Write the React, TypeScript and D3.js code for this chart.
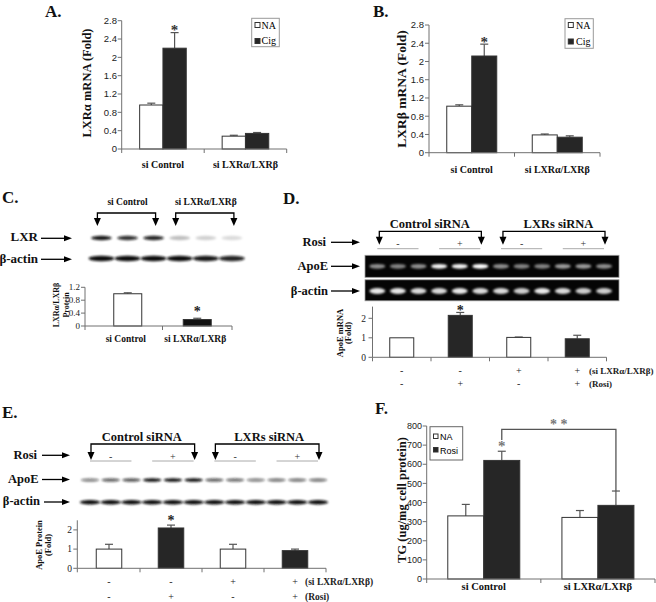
import React from "react";
import * as d3 from "d3";

const SERIF = "'Liberation Serif','Times New Roman',serif";
const SANS = "'Liberation Sans',Arial,sans-serif";
const DARK = "#262626";
const AXIS = "#707070";
const ERR = "#555";

// ---------- Panel A / B ----------
const groupsAB = ["si Control", "si LXRα/LXRβ"];
const lxrAlphaNA = [0.96, 0.28];
const lxrAlphaNAErr = [0.04, 0.02];
const lxrAlphaCig = [2.2, 0.34];
const lxrAlphaCigErr = [0.34, 0.02];
const ticksAB = [0, 0.4, 0.8, 1.2, 1.6, 2, 2.4, 2.8];
const sigCig = [true, false];
const lxrBetaNA = [1.02, 0.39];
const lxrBetaNAErr = [0.03, 0.02];
const lxrBetaCig = [2.12, 0.34];
const lxrBetaCigErr = [0.26, 0.03];

// ---------- Panel C ----------
const groupsC = ["si Control", "si LXRα/LXRβ"];
const lxrProtein = [1.0, 0.2];
const lxrProteinErr = [0.03, 0.04];
const sigC = [false, true];
const ticksC = [0, 0.4, 0.8, 1.2];
const lanes6 = ["1", "2", "3", "4", "5", "6"];
const lxrBandC = [0.95, 0.85, 0.9, 0.25, 0.18, 0.14];
const actinBandC = [1, 1, 1, 1, 0.95, 0.9];

// ---------- Panels D / E ----------
const blotGroups = ["Control siRNA", "LXRs siRNA"];
const conds = ["c1", "c2", "c3", "c4"];
const siRow = ["-", "-", "+", "+"];
const rosiRow = ["-", "+", "-", "+"];
const lanes12 = ["1", "2", "3", "4", "5", "6", "7", "8", "9", "10", "11", "12"];
const apoeMrna = [1.0, 2.15, 1.02, 0.95];
const apoeMrnaErr = [0, 0.15, 0.02, 0.18];
const sigDE = [false, true, false, false];
const ticksDE = [0, 1, 2];
const apoeGelD = [0.55, 0.5, 0.55, 0.95, 0.95, 1.0, 0.55, 0.5, 0.5, 0.6, 0.6, 0.55];
const actinGelD = [0.9, 0.9, 0.85, 0.85, 0.9, 0.85, 0.85, 0.8, 0.9, 0.85, 0.8, 0.8];
const apoeProtein = [1.0, 2.1, 1.0, 0.92];
const apoeProteinErr = [0.25, 0.15, 0.25, 0.08];
const apoeBlotE = [0.5, 0.65, 0.7, 1, 1, 1, 0.65, 0.6, 0.5, 0.55, 0.55, 0.55];
const actinBlotE = [1, 1, 1, 1, 1, 1, 1, 1, 1, 1, 1, 1];

// ---------- Panel F ----------
const groupsF = ["si Control", "si LXRα/LXRβ"];
const tgNA = [330, 322];
const tgNAErr = [60, 36];
const tgRosi = [620, 385];
const tgRosiErr = [48, 75];
const sigRosi = [true, false];
const ticksF = [0, 100, 200, 300, 400, 500, 600, 700, 800];

type Lin = d3.ScaleLinear<number, number>;
type Band = d3.ScaleBand<string>;

function Arrow({ x1, x2, y }: { x1: number; x2: number; y: number }) {
  return (
    <g>
      <line x1={x1} x2={x2 - 5} y1={y} y2={y} stroke="#000" strokeWidth={1.3} />
      <path d={`M${x2 - 8},${y - 3}L${x2},${y}L${x2 - 8},${y + 3}Z`} fill="#000" />
    </g>
  );
}

function Bracket({ x1, x2, top, bottom }: { x1: number; x2: number; top: number; bottom: number }) {
  const tri = (x: number) => `M${x - 3.5},${bottom - 8}L${x + 3.5},${bottom - 8}L${x},${bottom}Z`;
  return (
    <g>
      <path d={`M${x1},${bottom - 6}V${top}H${x2}V${bottom - 6}`} fill="none" stroke="#000" strokeWidth={1.3} />
      <path d={tri(x1)} fill="#000" />
      <path d={tri(x2)} fill="#000" />
    </g>
  );
}

function YAxis({ y, x, ticks, font, size, labelX, fmt }: { y: Lin; x: number; ticks: number[]; font: string; size: number; labelX: number; fmt?: (v: number) => string }) {
  const [d0, d1] = y.domain();
  return (
    <g>
      <line x1={x} x2={x} y1={y(d0)} y2={y(d1)} stroke={AXIS} />
      {ticks.map((t) => (
        <g key={t}>
          <line x1={x - 4} x2={x} y1={y(t)} y2={y(t)} stroke={AXIS} />
          <text x={labelX} y={y(t)} dy="0.35em" textAnchor="end" fontFamily={font} fontSize={size} fill="#222">
            {fmt ? fmt(t) : String(t)}
          </text>
        </g>
      ))}
    </g>
  );
}

function XAxis({ x, y0, x0 }: { x: Band; y0: number; x0: number }) {
  const dom = x.domain();
  const r1 = x.range()[1];
  const bounds = dom.map((d) => x(d)! + x.bandwidth());
  return (
    <g>
      <line x1={x0} x2={r1} y1={y0} y2={y0} stroke={AXIS} />
      {[x0, ...bounds].map((b, i) => (
        <line key={i} x1={b} x2={b} y1={y0} y2={y0 + 4} stroke={AXIS} />
      ))}
    </g>
  );
}

function ErrBar({ cx, y, v, e }: { cx: number; y: Lin; v: number; e: number }) {
  if (!e) return null;
  return (
    <g>
      <line x1={cx} x2={cx} y1={y(v)} y2={y(v + e)} stroke={ERR} strokeWidth={1.2} />
      <line x1={cx - 4} x2={cx + 4} y1={y(v + e)} y2={y(v + e)} stroke={ERR} strokeWidth={1.2} />
    </g>
  );
}

function Star({ x, yc, size, color }: { x: number; yc: number; size: number; color: string }) {
  return (
    <text x={x} y={yc + size * 0.5} textAnchor="middle" fontFamily={SERIF} fontWeight="bold" fontSize={size} fill={color}>
      *
    </text>
  );
}

function RotTitle({ lines, x, y, size, gap }: { lines: string[]; x: number; y: number; size: number; gap: number }) {
  return (
    <g>
      {lines.map((l, i) => (
        <text key={i} transform={`translate(${x + i * gap},${y}) rotate(-90)`} textAnchor="middle" dy="0.35em" fontFamily={SERIF} fontWeight="bold" fontSize={size} fill="#111">
          {l}
        </text>
      ))}
    </g>
  );
}

function Grouped(p: {
  cats: string[]; s1: number[]; e1: number[]; s2: number[]; e2: number[]; sig: boolean[];
  x: Band; y: Lin; barW: number; axisX: number; catY: number; catSize: number; starGap: number; starColor: string;
}) {
  const y0 = p.y(0);
  return (
    <g>
      {p.cats.map((c, i) => {
        const cx = p.x(c)! + p.x.bandwidth() / 2;
        const bars = [
          { v: p.s1[i], e: p.e1[i], fill: "#fff", x: cx - p.barW },
          { v: p.s2[i], e: p.e2[i], fill: DARK, x: cx },
        ];
        return (
          <g key={c}>
            {bars.map((b, j) => (
              <g key={j}>
                <ErrBar cx={b.x + p.barW / 2} y={p.y} v={b.v} e={b.e} />
                <rect x={b.x} y={p.y(b.v)} width={p.barW} height={y0 - p.y(b.v)} fill={b.fill} stroke="#333" strokeWidth={1} />
              </g>
            ))}
            {p.sig[i] && <Star x={cx + p.barW / 2} yc={p.y(p.s2[i] + p.e2[i]) - p.starGap} size={15} color={p.starColor} />}
            <text x={cx} y={p.catY} textAnchor="middle" fontFamily={SERIF} fontWeight="bold" fontSize={p.catSize} fill="#111">{c}</text>
          </g>
        );
      })}
      <XAxis x={p.x} y0={y0} x0={p.axisX} />
    </g>
  );
}

function FourBars(p: { vals: number[]; errs: number[]; x: Band; y: Lin; barW: number; axisX: number; starGap: number }) {
  const y0 = p.y(0);
  return (
    <g>
      {conds.map((c, i) => {
        const cx = p.x(c)! + p.x.bandwidth() / 2;
        return (
          <g key={c}>
            <ErrBar cx={cx} y={p.y} v={p.vals[i]} e={p.errs[i]} />
            <rect x={cx - p.barW / 2} y={p.y(p.vals[i])} width={p.barW} height={y0 - p.y(p.vals[i])} fill={rosiRow[i] === "+" ? DARK : "#fff"} stroke="#333" />
            {sigDE[i] && <Star x={cx} yc={p.y(p.vals[i] + p.errs[i]) - p.starGap} size={14} color="#222" />}
          </g>
        );
      })}
      <XAxis x={p.x} y0={y0} x0={p.axisX} />
    </g>
  );
}

function Rows({ x, y1, y2, labelX, labelSize }: { x: Band; y1: number; y2: number; labelX: number; labelSize: number }) {
  return (
    <g fontFamily={SERIF} fill="#222">
      {conds.map((c, i) => {
        const cx = x(c)! + x.bandwidth() / 2;
        return (
          <g key={c} fontSize={10}>
            <text x={cx} y={y1} textAnchor="middle">{siRow[i]}</text>
            <text x={cx} y={y2} textAnchor="middle">{rosiRow[i]}</text>
          </g>
        );
      })}
      <text x={labelX} y={y1} fontWeight="bold" fontSize={labelSize}>(si LXRα/LXRβ)</text>
      <text x={labelX} y={y2} fontWeight="bold" fontSize={labelSize}>(Rosi)</text>
    </g>
  );
}

function Bands({ lanes, vals, x, y, rx, ry, color, filter }: { lanes: string[]; vals: number[]; x: d3.ScalePoint<string>; y: number; rx: number; ry: number; color: string; filter: string }) {
  return (
    <g filter={`url(#${filter})`}>
      {lanes.map((l, i) => (
        <ellipse key={l} cx={x(l)} cy={y} rx={rx} ry={ry} fill={color} fillOpacity={vals[i]} />
      ))}
    </g>
  );
}

function RosiMarks({ x, y, lineY }: { x: d3.ScalePoint<string>; y: number; lineY: number }) {
  return (
    <g>
      {rosiRow.map((s, g) => (
        <g key={g}>
          <line x1={x(lanes12[g * 3])!} x2={x(lanes12[g * 3 + 2])!} y1={lineY} y2={lineY} stroke="#aaa" strokeWidth={1} />
          <text x={x(lanes12[g * 3 + 1])} y={y} textAnchor="middle" fontFamily={SERIF} fontSize={10} fill="#333">{s}</text>
        </g>
      ))}
    </g>
  );
}

const labelStyle = { fontFamily: SERIF, fontWeight: "bold" as const, fill: "#111" };

export default function App() {
  // A
  const yA = d3.scaleLinear().domain([0, 2.8]).range([149, 20.7]);
  const xA = d3.scaleBand<string>().domain(groupsAB).range([121.7, 286.7]);
  // B
  const yB = d3.scaleLinear().domain([0, 2.8]).range([152.7, 25]);
  const xB = d3.scaleBand<string>().domain(groupsAB).range([429, 600]);
  // C
  const laneC = d3.scalePoint<string>().domain(lanes6).range([101.4, 231.9]);
  const yC = d3.scaleLinear().domain([0, 1.2]).range([326, 287.3]);
  const xC = d3.scaleBand<string>().domain(groupsC).range([93, 232]);
  // D
  const laneD = d3.scalePoint<string>().domain(lanes12).range([377.3, 604]);
  const yD = d3.scaleLinear().domain([0, 2.6]).range([357.3, 306.6]);
  const xD = d3.scaleBand<string>().domain(conds).range([372.5, 606.5]);
  // E
  const laneE = d3.scalePoint<string>().domain(lanes12).range([90, 318]);
  const yE = d3.scaleLinear().domain([0, 2.5]).range([568.3, 520.3]);
  const xE = d3.scaleBand<string>().domain(conds).range([78, 326]);
  // F
  const yF = d3.scaleLinear().domain([0, 800]).range([579, 426]);
  const xF = d3.scaleBand<string>().domain(groupsF).range([426.7, 655]);

  const fmtAB = (v: number) => (v === 0 ? "0" : d3.format("~g")(v));
  const fC = (i: number) => (i === 0 ? laneC(lanes6[0])! : laneC(lanes6[3])!);
  const fxF = (i: number) => xF(groupsF[i])! + xF.bandwidth() / 2 + 18;

  return (
    <svg width={656} height={602} style={{ position: "absolute", left: 0, top: 0, background: "#fff" }}>
      <defs>
        <filter id="blurW" x="-50%" y="-100%" width="200%" height="300%">
          <feGaussianBlur stdDeviation="0.9" />
        </filter>
        <filter id="blurG" x="-50%" y="-100%" width="200%" height="300%">
          <feGaussianBlur stdDeviation="0.8" />
        </filter>
      </defs>
      <rect width={656} height={602} fill="#fff" />

      {/* Panel letters */}
      <g {...labelStyle} fontSize={17}>
        <text x={45} y={16.5}>A.</text>
        <text x={373} y={16.5}>B.</text>
        <text x={2} y={203}>C.</text>
        <text x={283} y={204}>D.</text>
        <text x={2} y={418}>E.</text>
        <text x={375} y={414}>F.</text>
      </g>

      {/* ===== A ===== */}
      <YAxis y={yA} x={121.7} ticks={ticksAB} font={SANS} size={9.5} labelX={117} fmt={fmtAB} />
      <Grouped cats={groupsAB} s1={lxrAlphaNA} e1={lxrAlphaNAErr} s2={lxrAlphaCig} e2={lxrAlphaCigErr} sig={sigCig}
        x={xA} y={yA} barW={23.3} axisX={121.7} catY={168} catSize={10} starGap={5.5} starColor="#333" />
      <RotTitle lines={["LXRα mRNA (Fold)"]} x={87} y={83} size={12.5} gap={0} />
      <g>
        <rect x={251.7} y={18.3} width={27.6} height={28.4} fill="#fff" stroke="#999" />
        <rect x={255} y={22.5} width={5} height={5} fill="#fff" stroke="#333" />
        <rect x={255} y={38.5} width={5} height={5} fill={DARK} stroke="#333" />
        <text x={261.5} y={28.5} fontFamily={SERIF} fontSize={10}>NA</text>
        <text x={261.5} y={44} fontFamily={SERIF} fontSize={10}>Cig</text>
      </g>

      {/* ===== B ===== */}
      <YAxis y={yB} x={429} ticks={ticksAB} font={SANS} size={9.5} labelX={424} fmt={fmtAB} />
      <Grouped cats={groupsAB} s1={lxrBetaNA} e1={lxrBetaNAErr} s2={lxrBetaCig} e2={lxrBetaCigErr} sig={sigCig}
        x={xB} y={yB} barW={25} axisX={429} catY={173} catSize={10} starGap={4.5} starColor="#333" />
      <RotTitle lines={["LXRβ mRNA (Fold)"]} x={401.7} y={89} size={13.5} gap={0} />
      <g>
        <rect x={565} y={18.7} width={28.3} height={29.6} fill="#fff" stroke="#999" />
        <rect x={568.3} y={22.5} width={5} height={5} fill="#fff" stroke="#333" />
        <rect x={568.3} y={39} width={5} height={5} fill={DARK} stroke="#333" />
        <text x={576} y={28.5} fontFamily={SERIF} fontSize={10}>NA</text>
        <text x={576} y={45} fontFamily={SERIF} fontSize={10}>Cig</text>
      </g>

      {/* ===== C ===== */}
      <g {...labelStyle} fontSize={9.5}>
        {groupsC.map((g, i) => (
          <text key={g} x={(fC(i) + laneC(lanes6[i * 3 + 2])!) / 2} y={204.5} textAnchor="middle">{g}</text>
        ))}
      </g>
      {groupsC.map((g, i) => (
        <Bracket key={g} x1={laneC(lanes6[i * 3])! - 4} x2={laneC(lanes6[i * 3 + 2])! + 2} top={213} bottom={226} />
      ))}
      <g {...labelStyle} fontSize={13}>
        <text x={38} y={241.3} textAnchor="end">LXR</text>
        <text x={38} y={263.3} textAnchor="end">β-actin</text>
      </g>
      <Arrow x1={41} x2={72} y={238.3} />
      <Arrow x1={41} x2={72} y={259.3} />
      <Bands lanes={lanes6} vals={lxrBandC} x={laneC} y={238} rx={10.5} ry={2.2} color="#111" filter="blurG" />
      <Bands lanes={lanes6} vals={actinBandC} x={laneC} y={258.5} rx={12.8} ry={2.7} color="#111" filter="blurG" />
      <YAxis y={yC} x={85} ticks={ticksC} font={SERIF} size={9} labelX={80} />
      {groupsC.map((g, i) => {
        const cx = xC(g)! + xC.bandwidth() / 2;
        return (
          <g key={g}>
            <ErrBar cx={cx} y={yC} v={lxrProtein[i]} e={lxrProteinErr[i]} />
            <rect x={cx - 14} y={yC(lxrProtein[i])} width={28} height={yC(0) - yC(lxrProtein[i])} fill={i === 0 ? "#fff" : "#111"} stroke="#333" />
            {sigC[i] && <Star x={cx} yc={yC(lxrProtein[i] + lxrProteinErr[i]) - 9} size={14} color="#222" />}
            <text x={cx - 2} y={341.7} textAnchor="middle" {...labelStyle} fontSize={9.5}>{g}</text>
          </g>
        );
      })}
      <XAxis x={xC} y0={yC(0)} x0={85} />
      <RotTitle lines={["LXRα/LXRβ", "Protein"]} x={56.5} y={305} size={8} gap={10} />

      {/* ===== D ===== */}
      <g {...labelStyle} fontSize={12.5}>
        {blotGroups.map((g, i) => (
          <text key={g} x={(laneD(lanes12[i * 6])! + laneD(lanes12[i * 6 + 5])!) / 2 + (i === 1 ? 6 : 1)} y={228} textAnchor="middle">{g}</text>
        ))}
      </g>
      {blotGroups.map((g, i) => (
        <Bracket key={g} x1={laneD(lanes12[i * 6])! + 2} x2={laneD(lanes12[i * 6 + 5])! + 1} top={231.3} bottom={244.7} />
      ))}
      <RosiMarks x={laneD} y={246.5} lineY={248.7} />
      <g {...labelStyle} fontSize={12.5}>
        <text x={326} y={246.3} textAnchor="end">Rosi</text>
        <text x={328} y={270} textAnchor="end">ApoE</text>
        <text x={328} y={294.5} textAnchor="end">β-actin</text>
      </g>
      <Arrow x1={331} x2={360} y={242.3} />
      <Arrow x1={331} x2={360} y={266.3} />
      <Arrow x1={331} x2={360} y={291} />
      <rect x={365} y={255.3} width={254} height={22} fill="#050505" stroke="#999" strokeWidth={0.8} />
      <rect x={365} y={279.8} width={254} height={21} fill="#050505" stroke="#999" strokeWidth={0.8} />
      <Bands lanes={lanes12} vals={apoeGelD} x={laneD} y={266.3} rx={8} ry={2.4} color="#fff" filter="blurW" />
      <Bands lanes={lanes12} vals={actinGelD} x={laneD} y={291} rx={8} ry={2.9} color="#fff" filter="blurW" />
      <YAxis y={yD} x={372.5} ticks={ticksDE} font={SERIF} size={9.5} labelX={366} />
      <FourBars vals={apoeMrna} errs={apoeMrnaErr} x={xD} y={yD} barW={24} axisX={372.5} starGap={4} />
      <RotTitle lines={["ApoE mRNA", "(Fold)"]} x={340} y={333} size={8.5} gap={8.5} />
      <Rows x={xD} y1={373.5} y2={387} labelX={589} labelSize={9} />

      {/* ===== E ===== */}
      <g {...labelStyle} fontSize={12.5}>
        {blotGroups.map((g, i) => (
          <text key={g} x={(laneE(lanes12[i * 6])! + laneE(lanes12[i * 6 + 5])!) / 2 + (i === 1 ? 3 : 0)} y={440.5} textAnchor="middle">{g}</text>
        ))}
      </g>
      {blotGroups.map((g, i) => (
        <Bracket key={g} x1={laneE(lanes12[i * 6])! + 1} x2={laneE(lanes12[i * 6 + 5])! + 1} top={444} bottom={460} />
      ))}
      <RosiMarks x={laneE} y={459.5} lineY={461} />
      <g {...labelStyle} fontSize={12.5}>
        <text x={37} y={458.5} textAnchor="end">Rosi</text>
        <text x={38.5} y={483} textAnchor="end">ApoE</text>
        <text x={40} y={505} textAnchor="end">β-actin</text>
      </g>
      <Arrow x1={42} x2={70} y={455.3} />
      <Arrow x1={42} x2={70} y={479.5} />
      <Arrow x1={44} x2={70} y={502} />
      <Bands lanes={lanes12} vals={apoeBlotE} x={laneE} y={480} rx={9.2} ry={1.7} color="#111" filter="blurG" />
      <Bands lanes={lanes12} vals={actinBlotE} x={laneE} y={502.3} rx={10.3} ry={2.2} color="#111" filter="blurG" />
      <YAxis y={yE} x={77.3} ticks={ticksDE} font={SERIF} size={9.5} labelX={72} />
      <FourBars vals={apoeProtein} errs={apoeProteinErr} x={xE} y={yE} barW={25.5} axisX={77.3} starGap={7} />
      <RotTitle lines={["ApoE Protein", "(Fold)"]} x={39.3} y={545} size={8.5} gap={8.5} />
      <Rows x={xE} y1={585} y2={600} labelX={305} labelSize={9.5} />

      {/* ===== F ===== */}
      <YAxis y={yF} x={426.7} ticks={ticksF} font={SANS} size={9} labelX={422} />
      <Grouped cats={groupsF} s1={tgNA} e1={tgNAErr} s2={tgRosi} e2={tgRosiErr} sig={sigRosi}
        x={xF} y={yF} barW={36} axisX={426.7} catY={590} catSize={10.5} starGap={8} starColor="#777" />
      <RotTitle lines={["TG (ug/mg cell protein)"]} x={401.7} y={500} size={12.5} gap={0} />
      <path d={`M${fxF(0)},440V429.3H${fxF(1)}V${yF(tgRosi[1] + tgRosiErr[1])}`} fill="none" stroke="#555" strokeWidth={1.3} />
      <text x={(fxF(0) + fxF(1)) / 2} y={428.5} textAnchor="middle" fontFamily={SERIF} fontWeight="bold" fontSize={14} fill="#777">* *</text>
      <g>
        <rect x={430} y={426.7} width={32.7} height={33.3} fill="#fff" stroke="#666" />
        <rect x={433.5} y={434} width={4.5} height={4.5} fill="#fff" stroke="#333" />
        <rect x={433.5} y={447.5} width={4.5} height={4.5} fill={DARK} stroke="#333" />
        <text x={440} y={440} fontFamily={SANS} fontSize={9}>NA</text>
        <text x={440} y={453.5} fontFamily={SANS} fontSize={9}>Rosi</text>
      </g>
    </svg>
  );
}
